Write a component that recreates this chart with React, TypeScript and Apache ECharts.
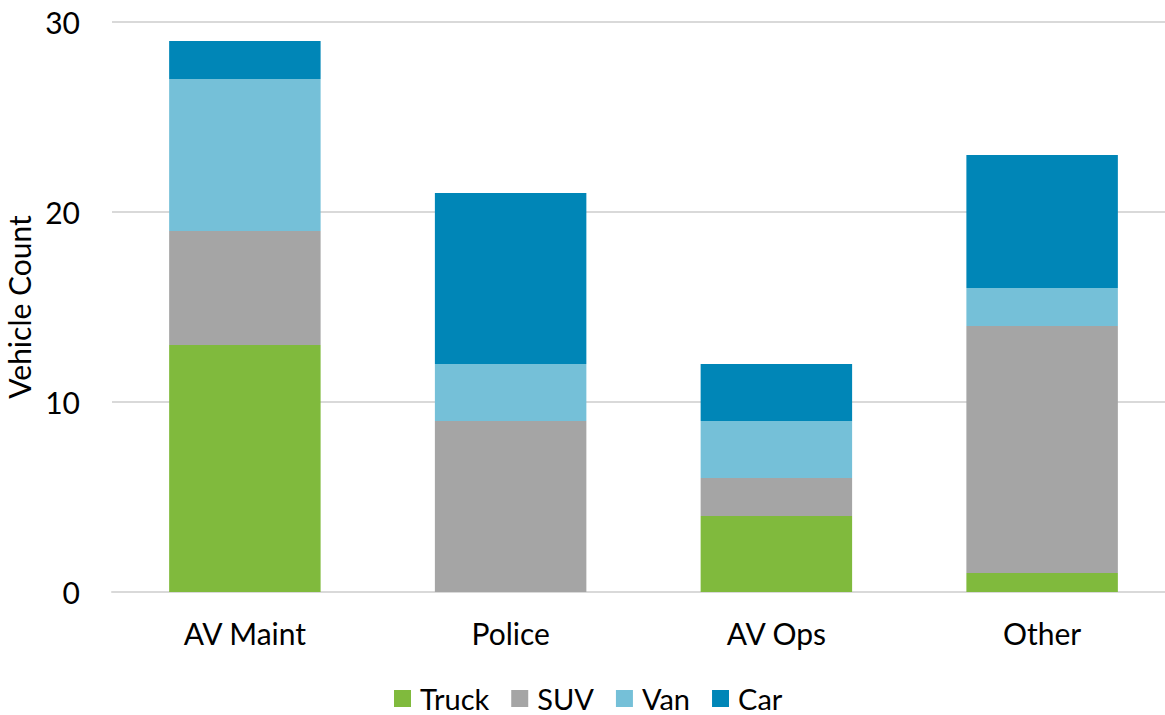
import React, { useEffect, useRef } from "react";
import * as echarts from "echarts";

const categories = ["AV Maint", "Police", "AV Ops", "Other"];
const seriesNames = ["Truck", "SUV", "Van", "Car"];
const truck = [13, 0, 4, 1];
const suv = [6, 9, 2, 13];
const van = [8, 3, 3, 2];
const car = [2, 9, 3, 7];
const colors = ["#80ba3d", "#a5a5a5", "#75c0d8", "#0086b7"];
const yTicks = { min: 0, max: 30, interval: 10 };

const FONT = "Lato";
const FS = 30;

export default function App() {
  const ref = useRef<HTMLDivElement>(null);
  useEffect(() => {
    document.body.style.margin = "0";
    const chart = echarts.init(ref.current!, null, { renderer: "svg" });
    const values = [truck, suv, van, car];
    chart.setOption({
      animation: false,
      textStyle: { fontFamily: FONT },
      grid: {
        left: 112,
        top: 22,
        width: 1063,
        height: 570,
        containLabel: false,
        outerBoundsMode: "none",
      },
      legend: {
        bottom: 2,
        left: 394,
        padding: 0,
        itemWidth: 17,
        itemHeight: 17,
        itemGap: 22,
        icon: "rect",
        textStyle: { fontFamily: FONT, fontSize: 29, color: "#000", padding: [0, 0, 0, 4] },
        data: seriesNames,
      },
      xAxis: {
        type: "category",
        data: categories,
        axisLine: { show: true, lineStyle: { color: "#d9d9d9", width: 2 } },
        axisTick: { show: false },
        axisLabel: { fontFamily: FONT, fontSize: FS, color: "#000", margin: 26 },
      },
      yAxis: {
        type: "value",
        min: yTicks.min,
        max: yTicks.max,
        interval: yTicks.interval,
        name: "Vehicle Count",
        nameLocation: "middle",
        nameGap: 77,
        nameTextStyle: { fontFamily: FONT, fontSize: FS, color: "#000" },
        axisLine: { show: false },
        axisTick: { show: false },
        axisLabel: { fontFamily: FONT, fontSize: FS, color: "#000", margin: 32 },
        splitLine: { lineStyle: { color: "#d9d9d9", width: 2 } },
      },
      series: seriesNames.map((n, i) => ({
        name: n,
        type: "bar",
        stack: "total",
        barWidth: "57%",
        data: values[i],
        itemStyle: { color: colors[i] },
      })),
    });
    return () => chart.dispose();
  }, []);
  return (
    <div
      ref={ref}
      style={{ position: "absolute", left: 0, top: 0, width: 1165, height: 715 }}
    />
  );
}
